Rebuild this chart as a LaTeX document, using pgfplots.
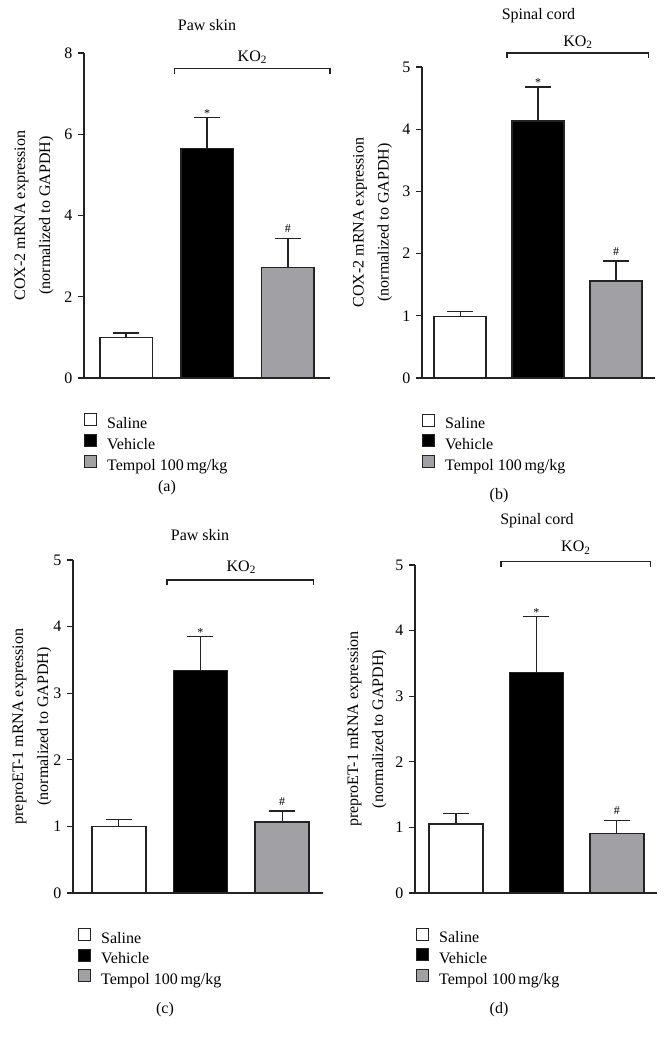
\documentclass[border=0pt]{standalone}
\usepackage{fontspec}
\setmainfont{Liberation Serif}
\usepackage{pgfplots}
\pgfplotsset{compat=1.18}
\definecolor{bargray}{RGB}{160,160,165}
\definecolor{edge}{RGB}{35,35,35}
\newcommand{\mainfont}{\fontsize{16}{19}\selectfont}
\pgfplotsset{
  panel/.style={
    scale only axis, anchor=south west,
    axis lines=left, axis line style={-, line width=1.3pt, edge},
    xtick=\empty, ymin=0,
    tick align=outside, major tick length=6pt,
    ytick style={line width=1.3pt, edge},
    tick label style={font=\mainfont},
    /pgf/number format/assume math mode=true,
    clip=false,
    every axis title shift=0pt,
    legend cell align=left,
    legend style={draw=none, fill=none, anchor=north west, inner sep=0pt,
      row sep=1.5pt, column sep=10pt,
      nodes={inner sep=0pt, text height=11pt, text depth=4pt, font=\mainfont}},
    title style={anchor=center, font=\mainfont},
    ylabel style={align=center, anchor=center, font=\fontsize{16}{25}\selectfont},
  },
  sqlegend/.style={legend image code/.code={\draw[##1, line width=1pt, draw=edge] (0pt,-0.7pt) rectangle (12pt,11.3pt);}},
  mybar/.style={ybar, bar shift=0pt, bar width=#1, line width=1.6pt, draw=edge, sqlegend,
    error bars/y dir=plus, error bars/y explicit,
    error bars/error mark=|,
    error bars/error bar style={line width=1.3pt, edge},
    error bars/error mark options={line width=1.3pt, edge, mark size=13pt}},
}
\begin{document}
\begin{tikzpicture}
\useasboundingbox (0,0) rectangle (668pt,1044pt);
\mainfont
% ---------------- (a)
\begin{axis}[panel, at={(84pt,666pt)}, width=246pt, height=325pt,
  xmin=-0.52, xmax=2.52, ymax=8, ytick={0,2,4,6,8},
  title={Paw skin}, title style={at={(axis description cs:0.5,1.086)}},
  ylabel={COX-2 mRNA expression\\(normalized to GAPDH)},
  ylabel style={at={(axis description cs:-0.203,0.5)}},
  legend style={at={(axis description cs:0,-0.108)}}]
\addplot[mybar=0.65, fill=white] coordinates {(0,1.00) +- (0,0.11)};
\addplot[mybar=0.65, fill=black] coordinates {(1,5.65) +- (0,0.77)};
\addplot[mybar=0.65, fill=bargray] coordinates {(2,2.72) +- (0,0.72)};
\legend{Saline, Vehicle, Tempol 100\,mg/kg}
\draw[line width=1.3pt, edge] (axis cs:0.6,7.49) -- (axis cs:0.6,7.61) -- (axis cs:2.52,7.61) -- (axis cs:2.52,7.49);
\node[font=\mainfont] at (axis cs:1.56,7.9) {KO\textsubscript{2}};
\node[font=\fontsize{12}{14}\selectfont, anchor=base] at (axis cs:1,6.42) {*};
\node[font=\fontsize{12}{14}\selectfont, anchor=base, yshift=6pt] at (axis cs:2,3.44) {\#};
\end{axis}
% ---------------- (b)
\begin{axis}[panel, at={(422pt,666pt)}, width=233pt, height=311pt,
  xmin=-0.49, xmax=2.5, ymax=5, ytick={0,1,2,3,4,5},
  title={Spinal cord}, title style={at={(axis description cs:0.5,1.164)}},
  ylabel={COX-2 mRNA expression\\(normalized to GAPDH)},
  ylabel style={at={(axis description cs:-0.212,0.5)}},
  legend style={at={(axis description cs:0,-0.114)}}]
\addplot[mybar=0.67, fill=white] coordinates {(0,0.99) +- (0,0.08)};
\addplot[mybar=0.67, fill=black] coordinates {(1,4.13) +- (0,0.55)};
\addplot[mybar=0.67, fill=bargray] coordinates {(2,1.56) +- (0,0.32)};
\legend{Saline, Vehicle, Tempol 100\,mg/kg}
\draw[line width=1.3pt, edge] (axis cs:0.6,5.145) -- (axis cs:0.6,5.225) -- (axis cs:2.42,5.225) -- (axis cs:2.42,5.145);
\node[font=\mainfont] at (axis cs:1.51,5.4) {KO\textsubscript{2}};
\node[font=\fontsize{12}{14}\selectfont, anchor=base] at (axis cs:1,4.68) {*};
\node[font=\fontsize{12}{14}\selectfont, anchor=base, yshift=6pt] at (axis cs:2,1.88) {\#};
\end{axis}
% ---------------- (c)
\begin{axis}[panel, at={(73pt,151pt)}, width=250pt, height=333pt,
  xmin=-0.56, xmax=2.5, ymax=5, ytick={0,1,2,3,4,5},
  title={Paw skin}, title style={at={(axis description cs:0.508,1.075)}},
  ylabel={preproET-1 mRNA expression\\(normalized to GAPDH)},
  ylabel style={at={(axis description cs:-0.164,0.5)}},
  legend style={at={(axis description cs:0.02,-0.104)}}]
\addplot[mybar=0.66, fill=white] coordinates {(0,1.00) +- (0,0.10)};
\addplot[mybar=0.66, fill=black] coordinates {(1,3.34) +- (0,0.51)};
\addplot[mybar=0.66, fill=bargray] coordinates {(2,1.07) +- (0,0.16)};
\legend{Saline, Vehicle, Tempol 100\,mg/kg}
\draw[line width=1.3pt, edge] (axis cs:0.59,4.62) -- (axis cs:0.59,4.70) -- (axis cs:2.38,4.70) -- (axis cs:2.38,4.62);
\node[font=\mainfont] at (axis cs:1.5,4.89) {KO\textsubscript{2}};
\node[font=\fontsize{12}{14}\selectfont, anchor=base] at (axis cs:1,3.85) {*};
\node[font=\fontsize{12}{14}\selectfont, anchor=base, yshift=6pt] at (axis cs:2,1.23) {\#};
\end{axis}
% ---------------- (d)
\begin{axis}[panel, at={(415pt,151pt)}, width=242pt, height=328pt,
  xmin=-0.51, xmax=2.5, ymax=5, ytick={0,1,2,3,4,5},
  title={Spinal cord}, title style={at={(axis description cs:0.504,1.134)}},
  ylabel={preproET-1 mRNA expression\\(normalized to GAPDH)},
  ylabel style={at={(axis description cs:-0.198,0.5)}},
  legend style={at={(axis description cs:0.004,-0.105)}}]
\addplot[mybar=0.67, fill=white] coordinates {(0,1.05) +- (0,0.16)};
\addplot[mybar=0.67, fill=black] coordinates {(1,3.36) +- (0,0.85)};
\addplot[mybar=0.67, fill=bargray] coordinates {(2,0.91) +- (0,0.19)};
\legend{Saline, Vehicle, Tempol 100\,mg/kg}
\draw[line width=1.3pt, edge] (axis cs:0.56,4.97) -- (axis cs:0.56,5.05) -- (axis cs:2.42,5.05) -- (axis cs:2.42,4.97);
\node[font=\mainfont] at (axis cs:1.49,5.26) {KO\textsubscript{2}};
\node[font=\fontsize{12}{14}\selectfont, anchor=base] at (axis cs:1,4.21) {*};
\node[font=\fontsize{12}{14}\selectfont, anchor=base, yshift=6pt] at (axis cs:2,1.10) {\#};
\end{axis}
\node[font=\mainfont] at (167pt,556.5pt) {(a)};
\node[font=\mainfont] at (499pt,548pt) {(b)};
\node[font=\mainfont] at (165pt,34.5pt) {(c)};
\node[font=\mainfont] at (499pt,34.5pt) {(d)};
\end{tikzpicture}
\end{document}
